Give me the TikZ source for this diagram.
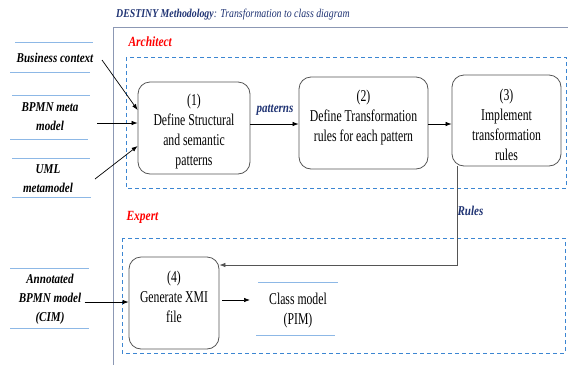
\documentclass[tikz,border=0pt]{standalone}
\usepackage{fontspec}
\setmainfont{Liberation Serif}[FakeStretch=0.82]
\newfontfamily\boxfont{Liberation Serif}[FakeStretch=0.71]
\usetikzlibrary{arrows.meta}
\definecolor{navy}{HTML}{1F3373}
\definecolor{framec}{HTML}{8C98B4}
\definecolor{dashc}{HTML}{3C86D2}
\definecolor{rulec}{HTML}{8DB8E6}
\definecolor{boxc}{HTML}{555555}
\tikzset{
  stepbox/.style={draw=boxc, rounded corners=12pt, line width=0.8pt, inner sep=0pt},
  steptext/.style={align=center, inner sep=0pt, font=\boxfont\fontsize{16.5}{20}\selectfont},
  lane/.style={draw=dashc, dashed, dash pattern=on 4pt off 3pt, line width=1pt},
  inlabel/.style={font=\fontsize{13.5}{19}\selectfont\bfseries\itshape, align=center},
  rolelabel/.style={font=\fontsize{14}{14}\selectfont\bfseries\itshape, text=red, anchor=west},
  flowlabel/.style={font=\fontsize{13.5}{14}\selectfont\bfseries\itshape, text=navy},
  flow/.style={-{Latex[length=6pt,width=4.5pt]}, line width=0.7pt, draw=black},
  uline/.style={draw=rulec, line width=0.9pt},
}
\begin{document}
\begin{tikzpicture}[x=1pt,y=-1pt]
\useasboundingbox (0,0) rectangle (568,365);

% title and frame
\node[anchor=west, inner sep=0pt, font=\fontsize{12}{12}\selectfont\itshape, text=navy] (title) at (116,15)
  {\textbf{DESTINY Methodology}: Transformation to class diagram};
\draw[draw=framec, line width=1pt] (568,27) -- (113,27) -- (113,365);

% lanes
\node[rolelabel] (arch) at (125,42) {Architect};
\draw[lane] (126,57) rectangle (566,188);
\node[rolelabel] (expert) at (123,217) {Expert};
\draw[lane] (122,238) rectangle (565,353);

% process steps
\node[stepbox, minimum width=112pt, minimum height=92pt] (s1) at (194,128) {};
\node[steptext] (t1) at ([yshift=-4pt]s1.center) {(1)\\Define Structural\\and semantic\\patterns};
\node[stepbox, minimum width=129pt, minimum height=92pt] (s2) at (363.5,123) {};
\node[steptext] (t2) at ([yshift=5pt]s2.center) {(2)\\Define Transformation\\rules for each pattern};
\node[stepbox, minimum width=109pt, minimum height=91pt] (s3) at (506.5,120.5) {};
\node[steptext] (t3) at ([yshift=-4pt]s3.center) {(3)\\Implement\\transformation\\rules};
\node[stepbox, minimum width=90pt, minimum height=92pt] (s4) at (174,303) {};
\node[steptext] (t4) at ([yshift=6pt]s4.center) {(4)\\Generate XMI\\file};

% inputs
\node[inlabel] (bc) at (55,58) {Business context};
\draw[uline] (15,42) -- (93,42);
\draw[uline] (10,72) -- (90,72);
\node[inlabel] (bpmn) at (50,117) {BPMN meta\\model};
\draw[uline] (12,95) -- (90,95);
\draw[uline] (10,139) -- (88,139);
\node[inlabel] (uml) at (48,179) {UML\\metamodel};
\draw[uline] (12,158) -- (90,158);
\draw[uline] (12,197) -- (91,197);
\node[inlabel] (cim) at (50,299) {Annotated\\BPMN model\\(CIM)};
\draw[uline] (10,268) -- (89,268);
\draw[uline] (10,328) -- (89,328);

% output
\node[steptext] (pim) at (298,311) {Class model\\(PIM)};
\draw[uline] (258,282) -- (338,282);
\draw[uline] (256,335) -- (335,335);

% connectors
\coordinate (bcEnd) at (102,60);
\coordinate (bpEnd) at (97,123);
\coordinate (umEnd) at (95,179);
\draw[flow] (bcEnd) -- (s1.west |- 0,110);
\draw[flow] (bpEnd) -- (s1.west |- 0,123);
\draw[flow] (umEnd) -- (s1.west |- 0,146);
\draw[flow] (s1.east |- 0,124) -- (s2.west |- 0,124);
\node[flowlabel] (pat) at (275,110) {patterns};
\draw[flow] (s2.east |- 0,124) -- (s3.west |- 0,124);
\coordinate (down) at (457,265);
\draw[flow, draw=boxc] (s3.south -| down) -- (down) -- (s4.east |- down);
\node[flowlabel, anchor=west] (rules) at (454,211) {Rules};
\draw[flow] (222,300) -- (250,300);
\draw[flow] (cim.east |- 0,302) -- (s4.west |- 0,302);
\end{tikzpicture}
\end{document}
